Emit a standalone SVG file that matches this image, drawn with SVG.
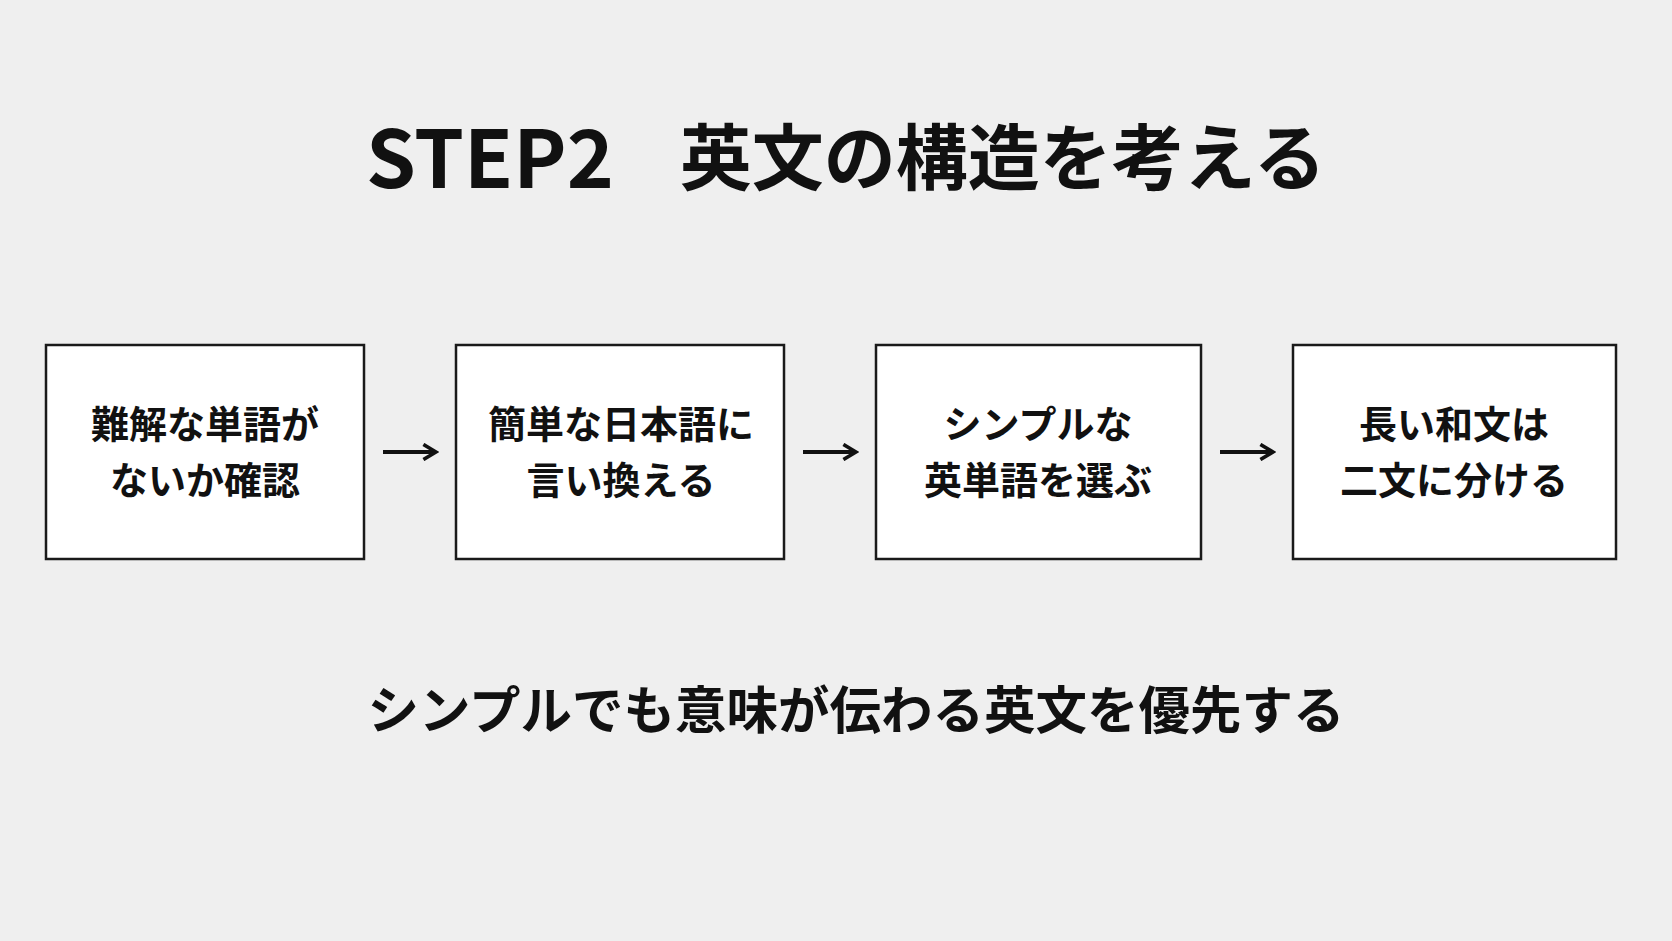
<svg xmlns="http://www.w3.org/2000/svg" width="1672" height="941" viewBox="0 0 1672 941">
<style>
.t{font-family:"Noto Sans CJK JP","Noto Sans",sans-serif;font-weight:700;fill:#111;text-anchor:middle;dominant-baseline:central}
.box{fill:#ffffff;stroke:#1a1a1a;stroke-width:2.5}
.lbl{font-size:38px}
.conn{stroke:#111;stroke-width:4;fill:none;stroke-linecap:butt}
</style>
<defs>
<marker id="ah" viewBox="0 0 10 10" refX="8.5" refY="5" markerWidth="4.5" markerHeight="4.5" orient="auto" markerUnits="strokeWidth">
<path d="M1.5,0.8 L8.5,5 L1.5,9.2" fill="none" stroke="#111" stroke-width="2"/>
</marker>
</defs>
<rect width="1672" height="941" fill="#efefef"/>
<g id="title"><text class="t" x="366" y="153" font-size="80" text-anchor="start" style="text-anchor:start">STEP2<tspan font-size="72" dx="66" dy="-1">英文の構造を考える</tspan></text></g>
<g id="node1"><rect class="box" x="46" y="345" width="318" height="214"/>
<text class="t lbl" x="205" y="421">難解な単語が</text><text class="t lbl" x="205" y="477">ないか確認</text></g>
<g id="node2"><rect class="box" x="456" y="345" width="328" height="214"/>
<text class="t lbl" x="621" y="421">簡単な日本語に</text><text class="t lbl" x="621" y="477">言い換える</text></g>
<g id="node3"><rect class="box" x="876" y="345" width="325" height="214"/>
<text class="t lbl" x="1038" y="421">シンプルな</text><text class="t lbl" x="1038" y="477">英単語を選ぶ</text></g>
<g id="node4"><rect class="box" x="1293" y="345" width="323" height="214"/>
<text class="t lbl" x="1454" y="421">長い和文は</text><text class="t lbl" x="1454" y="477">二文に分ける</text></g>
<g id="connectors">
<line class="conn" x1="383" y1="452" x2="436" y2="452" marker-end="url(#ah)"/>
<line class="conn" x1="803" y1="452" x2="856" y2="452" marker-end="url(#ah)"/>
<line class="conn" x1="1220" y1="452" x2="1273" y2="452" marker-end="url(#ah)"/>
</g>
<g id="footer"><text class="t" x="856" y="706" font-size="51.5">シンプルでも意味が伝わる英文を優先する</text></g>
</svg>
